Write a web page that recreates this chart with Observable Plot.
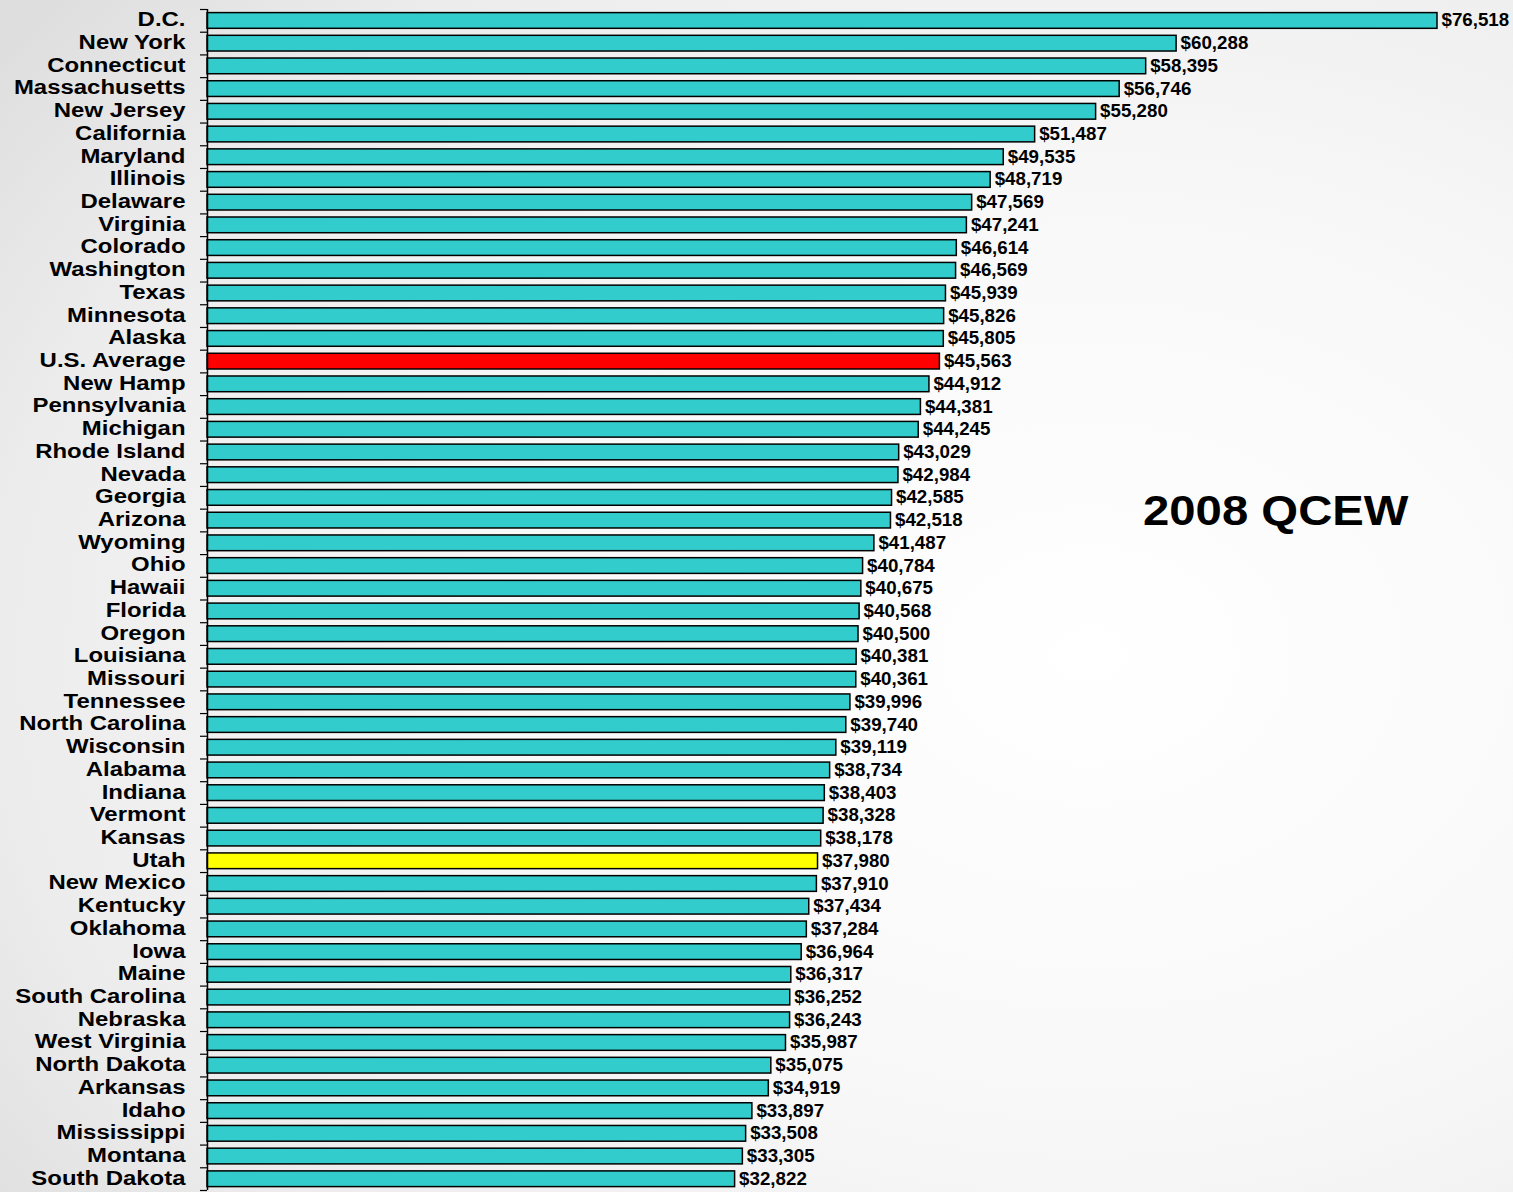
<!DOCTYPE html>
<html>
<head>
<meta charset="utf-8">
<script src="https://cdn.jsdelivr.net/npm/d3@7"></script>
<script src="https://cdn.jsdelivr.net/npm/@observablehq/plot@0.6"></script>
<style>
  html, body { margin: 0; padding: 0; }
  body {
    width: 1513px; height: 1192px; overflow: hidden;
    background: radial-gradient(ellipse 90% 85% at 72% 55%, #ffffff 0%, #f8f8f8 45%, #ececec 80%, #dedede 100%);
    font-family: "Liberation Sans", Arial, sans-serif;
  }
  #chart { position: absolute; left: 0; top: 0; }
</style>
</head>
<body>
<div id="chart"></div>
<script>
const states = [
  "D.C.", "New York", "Connecticut", "Massachusetts", "New Jersey", "California",
  "Maryland", "Illinois", "Delaware", "Virginia", "Colorado", "Washington", "Texas",
  "Minnesota", "Alaska", "U.S. Average", "New Hamp", "Pennsylvania", "Michigan",
  "Rhode Island", "Nevada", "Georgia", "Arizona", "Wyoming", "Ohio", "Hawaii",
  "Florida", "Oregon", "Louisiana", "Missouri", "Tennessee", "North Carolina",
  "Wisconsin", "Alabama", "Indiana", "Vermont", "Kansas", "Utah", "New Mexico",
  "Kentucky", "Oklahoma", "Iowa", "Maine", "South Carolina", "Nebraska",
  "West Virginia", "North Dakota", "Arkansas", "Idaho", "Mississippi", "Montana",
  "South Dakota"
];
const wages = [
  76518, 60288, 58395, 56746, 55280, 51487,
  49535, 48719, 47569, 47241, 46614, 46569, 45939,
  45826, 45805, 45563, 44912, 44381, 44245,
  43029, 42984, 42585, 42518, 41487, 40784, 40675,
  40568, 40500, 40381, 40361, 39996, 39740,
  39119, 38734, 38403, 38328, 38178, 37980, 37910,
  37434, 37284, 36964, 36317, 36252, 36243,
  35987, 35075, 34919, 33897, 33508, 33305,
  32822
];
const highlight = { "U.S. Average": "#ff0000", "Utah": "#ffff00" };
const baseColor = "#33cccc";
const title = "2008 QCEW";

const rows = states.map((s, i) => ({ state: s, wage: wages[i], color: highlight[s] || baseColor }));

const width = 1513, height = 1192;
const marginTop = 9, marginBottom = 2, marginLeft = 207, marginRight = 76;
const step = (height - marginTop - marginBottom) / states.length;
const fmt = d3.format(",");
const font = "Liberation Sans, Arial, sans-serif";

const chart = Plot.plot({
  width, height,
  marginTop, marginBottom, marginLeft, marginRight,
  style: { background: "transparent", fontFamily: font },
  x: { domain: [0, d3.max(wages)], axis: null },
  y: { domain: states, padding: 0, axis: null },
  marks: [
    Plot.barX(rows, {
      y: "state", x1: 0, x2: "wage", fill: "color",
      stroke: "#000", strokeWidth: 1.5,
      insetTop: 3.6, insetBottom: 3.4
    }),
    // boundary ticks left of the axis
    Plot.ruleY(states, { y: d => d, x1: 0, x2: 0, insetLeft: -7, dy: -step / 2, stroke: "#000", strokeWidth: 1.2 }),
    Plot.ruleY(states.slice(-1), { y: d => d, x1: 0, x2: 0, insetLeft: -7, dy: step / 2, stroke: "#000", strokeWidth: 1.2 }),
    Plot.ruleX([0], { stroke: "#000", strokeWidth: 1.5 }),
    // category labels
    Plot.text(rows, {
      y: "state", x: 0, text: "state", textAnchor: "end", dx: -22, dy: -1,
      fontSize: 20.3, fontWeight: "bold", fill: "#000", fontFamily: font
    }),
    // value labels
    Plot.text(rows, {
      y: "state", x: "wage", text: d => "$" + fmt(d.wage), textAnchor: "start", dx: 4, dy: 0,
      fontSize: 17.5, fontWeight: "bold", fill: "#000", fontFamily: font
    }),
    // annotation
    Plot.text([title], {
      frameAnchor: "right", text: d => d, textAnchor: "end", dx: -29, dy: -89,
      fontSize: 43, fontWeight: "bold", fill: "#000", fontFamily: font
    })
  ]
});

document.getElementById("chart").appendChild(chart);

// horizontally stretch text like the original slide's font rendering
const textGroups = d3.select(chart).selectAll('g[aria-label="text"]').nodes();
const factors = [1.18, 1.07, 1.1];
textGroups.forEach((g, k) => {
  const f = factors[k] || 1;
  d3.select(g).selectAll("text").each(function () {
    const len = this.getComputedTextLength();
    if (len > 0) {
      this.setAttribute("textLength", (len * f).toFixed(1));
      this.setAttribute("lengthAdjust", "spacingAndGlyphs");
    }
  });
});
</script>
</body>
</html>
